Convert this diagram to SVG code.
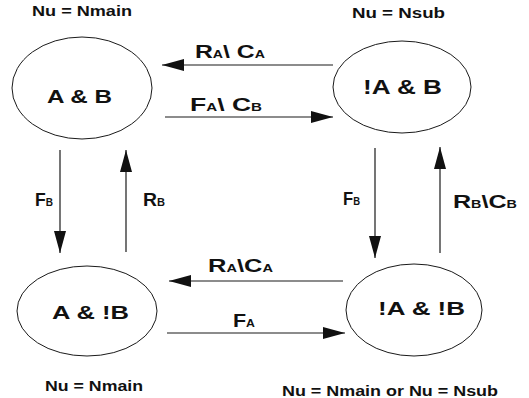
<svg xmlns="http://www.w3.org/2000/svg" width="529" height="398" viewBox="0 0 529 398">
  <style>
    .state { fill: none; stroke: #1a1a1a; stroke-width: 1; }
    .edge { stroke: #1a1a1a; stroke-width: 1.2; fill: none; marker-end: url(#head); }
    text { font-family: "Liberation Sans", Arial, sans-serif; font-weight: bold; fill: #111; }
    .name { font-size: 18px; }
    .note { font-size: 14px; }
    .lbl { font-size: 17.5px; }
    .sub { font-size: 10px; }
  </style>
  <defs>
    <marker id="head" viewBox="0 0 22 12" refX="22" refY="6" markerWidth="22" markerHeight="12" markerUnits="userSpaceOnUse" orient="auto">
      <path d="M0,0 L22,6 L0,12 Z" fill="#111"/>
    </marker>
  </defs>

  <!-- states -->
  <g id="state-a-b">
    <ellipse class="state" cx="82" cy="88" rx="70" ry="51"/>
    <text class="name" x="47" y="103" textLength="65" lengthAdjust="spacingAndGlyphs">A &amp; B</text>
    <text class="note" x="32" y="16" textLength="100" lengthAdjust="spacingAndGlyphs">Nu = Nmain</text>
  </g>
  <g id="state-na-b">
    <ellipse class="state" cx="402" cy="87" rx="69" ry="46"/>
    <text class="name" style="font-size:21px" x="363" y="94" textLength="79" lengthAdjust="spacingAndGlyphs">!A &amp; B</text>
    <text class="note" x="352" y="18" textLength="93" lengthAdjust="spacingAndGlyphs">Nu = Nsub</text>
  </g>
  <g id="state-a-nb">
    <ellipse class="state" cx="87" cy="311" rx="70" ry="45"/>
    <text class="name" x="52" y="319" textLength="77" lengthAdjust="spacingAndGlyphs">A &amp; !B</text>
    <text class="note" x="45" y="391" textLength="98" lengthAdjust="spacingAndGlyphs">Nu = Nmain</text>
  </g>
  <g id="state-na-nb">
    <ellipse class="state" cx="414" cy="310" rx="68" ry="46"/>
    <text class="name" x="378" y="315" textLength="87" lengthAdjust="spacingAndGlyphs">!A &amp; !B</text>
    <text class="note" x="282" y="396" textLength="216" lengthAdjust="spacingAndGlyphs">Nu = Nmain or Nu = Nsub</text>
  </g>

  <!-- transitions -->
  <g id="connectors">
    <line class="edge" x1="333" y1="65" x2="162" y2="65"/>
    <line class="edge" x1="165" y1="117" x2="333" y2="117"/>
    <line class="edge" x1="60" y1="150" x2="60" y2="253"/>
    <line class="edge" x1="126" y1="252" x2="126" y2="150"/>
    <line class="edge" x1="375" y1="148" x2="375" y2="258"/>
    <line class="edge" x1="440" y1="253" x2="440" y2="147"/>
    <line class="edge" x1="343" y1="281" x2="169" y2="281"/>
    <line class="edge" x1="167" y1="333" x2="345" y2="333"/>

    <text class="lbl" x="195" y="58" textLength="70" lengthAdjust="spacingAndGlyphs">R<tspan class="sub">A</tspan>\ C<tspan class="sub">A</tspan></text>
    <text class="lbl" x="190" y="111" textLength="72" lengthAdjust="spacingAndGlyphs">F<tspan class="sub">A</tspan>\ C<tspan class="sub">B</tspan></text>
    <text class="lbl" x="35" y="206" textLength="18" lengthAdjust="spacingAndGlyphs">F<tspan class="sub">B</tspan></text>
    <text class="lbl" x="143" y="206" textLength="22" lengthAdjust="spacingAndGlyphs">R<tspan class="sub">B</tspan></text>
    <text class="lbl" x="343" y="205" textLength="17" lengthAdjust="spacingAndGlyphs">F<tspan class="sub">B</tspan></text>
    <text class="lbl" x="453" y="208" textLength="64" lengthAdjust="spacingAndGlyphs">R<tspan class="sub">B</tspan>\C<tspan class="sub">B</tspan></text>
    <text class="lbl" x="208" y="272" textLength="65" lengthAdjust="spacingAndGlyphs">R<tspan class="sub">A</tspan>\C<tspan class="sub">A</tspan></text>
    <text class="lbl" x="233" y="327" textLength="22" lengthAdjust="spacingAndGlyphs">F<tspan class="sub">A</tspan></text>
  </g>
</svg>
